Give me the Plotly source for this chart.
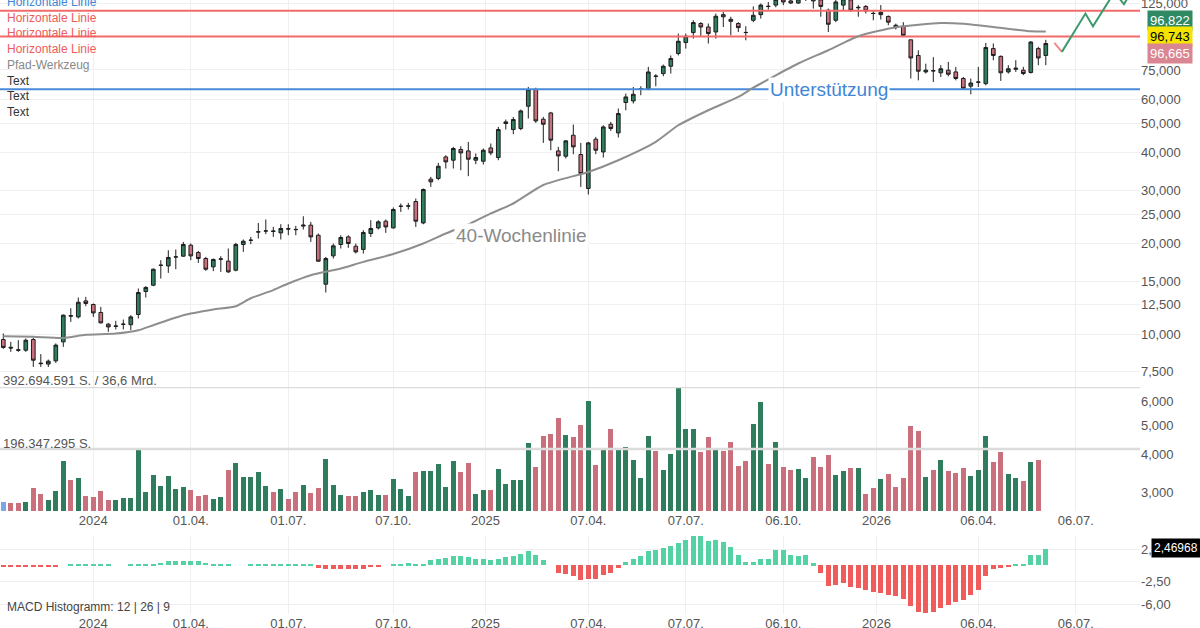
import math
import pandas as pd
import plotly.graph_objects as go

# weekly candles, first week starts Monday 2023-10-09
first_week = "2023-10-09"
n_weeks = 140

opens = [
    9600, 9050, 8880, 8850, 9600, 8020, 7960, 8160, 9430, 11520,
    11410, 12890, 12540, 11800, 10790, 10620, 10780, 10750, 11620, 13850,
    14530, 16900, 16830, 18010, 18130, 19710, 18640, 17810, 16710, 17700,
    17450, 16290, 19820, 20460, 21800, 21960, 21980, 21650, 22350, 22230,
    22800, 22960, 21270, 14640, 18170, 19820, 21000, 19560, 19080, 21550,
    22490, 23670, 22490, 26500, 26560, 27510, 23360, 32620, 32800, 38650,
    37690, 40900, 40460, 37690, 37400, 41400, 38470, 49860, 47620, 47990,
    56890, 64600, 51520, 54050, 40460, 38850, 45600, 39360, 30380, 44240,
    40150, 49590, 46410, 58510, 59230, 65000, 65100, 71600, 72980, 77180,
    85020, 92450, 99770, 106900, 104100, 100230, 114400, 110400, 106900, 99900,
    109600, 114400, 121900, 123000, 129000, 127000, 125000, 129000, 131000, 128000,
    118300, 109600, 123000, 128000, 120500, 121800, 115500, 114400, 112800, 103600,
    104700, 94400, 83800, 73900, 74600, 73400, 74900, 73900, 70300, 66300,
    68300, 67600, 88300, 83200, 73900, 75400, 74900, 73600, 88300, 83800,
]
highs = [
    10050, 9430, 9550, 9680, 9750, 8590, 8240, 9320, 11620, 12190,
    13230, 13290, 12640, 12310, 10900, 11070, 11180, 11560, 14170, 14420,
    16500, 17580, 18970, 19080, 20210, 19970, 18870, 18030, 17810, 18130,
    19220, 20070, 20590, 21000, 23360, 23980, 22660, 23130, 23130, 22840,
    24580, 23550, 21550, 18030, 19970, 21270, 21270, 19970, 22100, 23850,
    23850, 23980, 26280, 27090, 27220, 28140, 30380, 33200, 36920, 39150,
    41720, 41940, 43350, 39670, 41210, 42810, 48580, 51400, 52430, 55460,
    65900, 65500, 52430, 54470, 41720, 43910, 49480, 43010, 43350, 45020,
    49200, 50470, 55900, 62660, 65900, 66250, 76800, 72600, 78160, 83800,
    99010, 99010, 109600, 108000, 106900, 115300, 116800, 112600, 108000, 104700,
    121800, 124500, 126000, 131000, 133000, 130000, 133000, 135000, 134000, 131000,
    119800, 130000, 133000, 131000, 123000, 123000, 118300, 123000, 113700, 106800,
    108000, 94400, 87200, 78700, 82700, 77800, 79800, 76800, 71100, 70300,
    76800, 92200, 91800, 83800, 77800, 80800, 76800, 93500, 89500, 94400,
]
lows = [
    8940, 8740, 8740, 8740, 7790, 7790, 7790, 8030, 9080, 10980,
    11270, 12380, 11410, 10850, 10180, 10370, 10370, 10310, 11270, 13230,
    14420, 15290, 15960, 16410, 18030, 17580, 17220, 16200, 16170, 16080,
    15960, 16150, 18730, 19860, 20740, 21440, 21000, 20590, 21270, 21270,
    22220, 20210, 17350, 13740, 17810, 19220, 19310, 18500, 18500, 21000,
    22220, 21650, 22390, 25410, 25880, 22660, 23130, 30750, 32360, 35380,
    35380, 34910, 33370, 36560, 36480, 39150, 37690, 47620, 45950, 47370,
    51800, 50090, 43010, 40670, 34650, 38180, 39450, 30750, 29010, 39450,
    38470, 47120, 44810, 55170, 58070, 61860, 64260, 66250, 71500, 72980,
    83800, 88300, 95300, 97000, 91750, 95300, 104100, 97700, 100200, 94080,
    108000, 111000, 118900, 121000, 123000, 124000, 124000, 127000, 119800, 112600,
    100200, 108000, 118300, 116800, 112600, 115400, 109600, 110200, 105500, 102100,
    96400, 70300, 69300, 73000, 68400, 71100, 71500, 69300, 64700, 62300,
    65900, 66700, 80800, 69000, 73000, 73900, 72100, 73000, 77800, 77800,
]
closes = [
    9040, 9000, 8850, 9550, 8200, 7990, 8140, 9200, 11560, 11480,
    12760, 12640, 11760, 10900, 10570, 10640, 10790, 11410, 13740, 14280,
    16410, 16920, 17950, 18030, 19820, 18170, 17810, 16410, 17680, 17750,
    16080, 19820, 20320, 20480, 21820, 21980, 21900, 22390, 22300, 22200,
    22960, 21000, 17450, 17800, 19610, 20900, 19970, 18730, 21720, 22390,
    23550, 22660, 25880, 26540, 26600, 23670, 30140, 31960, 36000, 37200,
    41210, 39850, 37980, 38470, 40670, 39850, 47620, 50470, 51400, 54880,
    64600, 50860, 49590, 43910, 38940, 43680, 41720, 34050, 43010, 40670,
    48580, 47990, 53800, 61070, 62330, 65100, 73880, 71500, 77180, 81830,
    93370, 97000, 107700, 104100, 99010, 113000, 112500, 108700, 103600, 99800,
    113800, 123000, 121800, 128500, 126000, 125000, 129000, 131000, 127000, 121800,
    106300, 126000, 129000, 118300, 120900, 117600, 115400, 116400, 108000, 105500,
    97700, 82200, 74300, 74900, 74500, 75700, 72600, 70300, 65200, 67900,
    68400, 89000, 83800, 73400, 75700, 76000, 73000, 92800, 82200, 91800,
]

# weekly volume in million shares (current week has no bar yet)
volume_mio = [
    28, 26, 26, 28, 72, 53, 34, 64, 158, 97,
    104, 47, 44, 64, 36, 34, 40, 42, 195, 59,
    113, 79, 111, 71, 77, 68, 49, 52, 39, 44,
    131, 153, 107, 109, 125, 80, 60, 71, 39, 59,
    82, 58, 72, 166, 83, 52, 48, 46, 59, 68,
    51, 51, 101, 69, 49, 122, 127, 126, 149, 76,
    157, 123, 152, 53, 67, 68, 132, 86, 97, 97,
    214, 139, 238, 243, 295, 240, 235, 271, 348, 147,
    195, 260, 201, 202, 163, 106, 237, 190, 129, 179,
    392.694591, 261, 260, 187, 235, 200, 190, 217, 142, 158,
    274, 346, 148, 218, 138, 131, 134, 106, 171, 139,
    176, 114, 127, 135, 136, 55, 73, 101, 117, 77,
    106, 270, 253, 109, 131, 160, 128, 121, 135, 111,
    131, 239, 155, 187, 118, 106, 96, 154, 161,
]
volume_max_label = "392.694.591 S. / 36,6 Mrd."
volume_half_label = "196.347.295 S."

macd_hist = [
    -0.15, -0.15, -0.15, -0.15, -0.15, -0.15, -0.15, -0.15, 0, 0.15,
    0.15, 0.15, 0.15, 0.15, 0.15, 0, 0, 0.15, 0.15, 0.15,
    0.15, 0.4, 0.67, 0.72, 0.72, 0.72, 0.67, 0.4, 0.15, 0.15,
    0.15, 0, 0, 0.15, 0.15, 0.15, 0.15, 0.15, 0.15, 0.15,
    0.15, 0.15, -0.4, -0.6, -0.6, -0.6, -0.6, -0.6, -0.5, -0.2,
    -0.15, 0, 0.15, 0.15, 0.3, 0.15, 0.2, 0.77, 1.0, 1.1,
    1.45, 1.4, 1.2, 1.0, 0.92, 0.8, 1.0, 1.23, 1.4, 1.7,
    2.15, 1.54, 0.77, 0, -1.13, -1.28, -1.7, -2.3, -2.05, -2.05,
    -1.44, -1.13, -0.36, 0.46, 0.92, 1.38, 2.15, 2.3, 2.6, 3.0,
    3.5, 3.95, 4.56, 4.46, 3.7, 3.85, 3.54, 2.77, 1.54, 0.46,
    0.46, 0.92, 0.92, 2.3, 2.3, 1.54, 1.38, 1.54, 0.3, -1.18,
    -3.18, -2.97, -2.72, -3.33, -3.49, -3.85, -4.15, -4.26, -4.56, -4.72,
    -5.18, -6.2, -7.18, -7.33, -7.13, -6.56, -6.05, -5.64, -5.33, -4.56,
    -3.85, -1.64, -0.56, -0.36, -0.15, 0.15, 0.15, 1.54, 1.64, 2.46968,
]

# 40-week moving average, read at selected weeks
ma_weeks = [0, 4, 8, 11, 15, 18, 20, 24, 28, 31, 33, 36, 38, 41, 45, 48, 52, 56, 59, 62,
            65, 68, 72, 78, 82, 87, 90, 94, 98, 100, 103, 106, 110, 114, 119, 125, 128, 132, 137, 139]
ma_values = [9850, 9800, 9720, 9950, 10050, 10310, 10710, 11560, 12070, 12380,
             13150, 14000, 14720, 15680, 16500, 17360, 18420, 19970, 21550, 23100,
             25120, 27090, 31200, 34460, 37690, 43350, 49200, 55170, 61070, 65500,
             72000, 78800, 87200, 97000, 103900, 107300, 106700, 104100, 100800, 100500]

# drawing objects
red_levels = [117800, 96743]
blue_levels = [64760]
path_dates = ["2026-06-16", "2026-06-23", "2026-07-15", "2026-07-22", "2026-08-11", "2026-08-20", "2026-08-30"]
path_values = [92200, 86100, 115300, 104700, 135700, 123800, 143000]

quote_labels = ["96,822", "96,743", "96,665"]
macd_last_label = "2,46968"

price_ticks = [3000, 4000, 5000, 6000, 7500, 10000, 12500, 15000, 20000, 25000,
               30000, 40000, 50000, 60000, 75000, 125000]
macd_ticks = [2.5, -2.5, -6.0]
macd_ticktext = ["2,50", "-2,50", "-6,00"]
date_ticks = ["2024-01-01", "2024-04-01", "2024-07-01", "2024-10-07", "2025-01-01", "2025-04-07",
              "2025-07-07", "2025-10-06", "2026-01-01", "2026-04-06", "2026-07-06"]
date_ticktext = ["2024", "01.04.", "01.07.", "07.10.", "2025", "07.04.",
                 "07.07.", "06.10.", "2026", "06.04.", "06.07."]

legend_items = [
    ("Horizontale Linie", "#3f86d6"),
    ("Horizontale Linie", "#f05a5a"),
    ("Horizontale Linie", "#f05a5a"),
    ("Horizontale Linie", "#f05a5a"),
    ("Pfad-Werkzeug", "#888888"),
    ("Text", "#333333"),
    ("Text", "#333333"),
    ("Text", "#333333"),
]

GREEN = "#2f7d5c"
RED = "#c9707c"
FONT = "Liberation Sans, Arial, sans-serif"


def main():
    dates = pd.date_range(first_week, periods=n_weeks, freq="7D")
    day_ms = 86400000

    # plot area: 1140 px wide, 7.5 px per week
    x_left = dates[0] - pd.Timedelta(days=3.3 * 7 / 7.5)
    x_right = x_left + pd.Timedelta(days=1140 * 7 / 7.5)

    plot_h = 614.0

    def py(px):
        return 1 - px / plot_h

    fig = go.Figure()

    # volume bars (colour = close vs previous close)
    vol_colors = ["#7aa7ea"] + [
        GREEN if closes[i] > closes[i - 1] else RED for i in range(1, len(volume_mio))
    ]
    fig.add_trace(
        go.Bar(
            x=dates[: len(volume_mio)],
            y=volume_mio,
            marker=dict(color=vol_colors, line=dict(width=0)),
            width=4.6 * day_ms,
            xaxis="x",
            yaxis="y2",
            showlegend=False,
            hoverinfo="skip",
        )
    )

    # horizontal lines
    for lvl in red_levels:
        fig.add_trace(
            go.Scatter(x=[x_left, x_right], y=[lvl, lvl], mode="lines",
                       line=dict(color="#f26b6b", width=2), showlegend=False, hoverinfo="skip")
        )
    for lvl in blue_levels:
        fig.add_trace(
            go.Scatter(x=[x_left, x_right], y=[lvl, lvl], mode="lines",
                       line=dict(color="#4a8ad8", width=2), showlegend=False, hoverinfo="skip")
        )

    # 40-week line
    fig.add_trace(
        go.Scatter(
            x=[dates[i] for i in ma_weeks],
            y=ma_values,
            mode="lines",
            line=dict(color="#8e8e8e", width=2, shape="spline", smoothing=0.6),
            showlegend=False,
            hoverinfo="skip",
        )
    )

    fig.add_trace(
        go.Candlestick(
            x=dates,
            open=opens,
            high=highs,
            low=lows,
            close=closes,
            increasing=dict(fillcolor=GREEN, line=dict(color="#1e1e1e", width=1)),
            decreasing=dict(fillcolor=RED, line=dict(color="#1e1e1e", width=1)),
            whiskerwidth=0,
            showlegend=False,
        )
    )

    # path tool
    fig.add_trace(
        go.Scatter(x=path_dates[:2], y=path_values[:2], mode="lines",
                   line=dict(color="#f08a8a", width=2), showlegend=False, hoverinfo="skip")
    )
    fig.add_trace(
        go.Scatter(x=path_dates[1:], y=path_values[1:], mode="lines",
                   line=dict(color="#3d9a6e", width=2), showlegend=False, hoverinfo="skip")
    )

    # MACD histogram
    fig.add_trace(
        go.Bar(
            x=dates,
            y=macd_hist,
            marker=dict(color=["#55d2a4" if v >= 0 else "#f05c5c" for v in macd_hist], line=dict(width=0)),
            width=5.0 * day_ms,
            xaxis="x2",
            yaxis="y3",
            showlegend=False,
            hoverinfo="skip",
        )
    )

    tickfont = dict(family=FONT, size=13, color="#555555")
    price_bottom = py(511)

    fig.update_layout(
        width=1200,
        height=628,
        margin=dict(l=0, r=60, t=0, b=14, autoexpand=False),
        paper_bgcolor="white",
        plot_bgcolor="white",
        bargap=0,
        font=dict(family=FONT),
        xaxis=dict(
            domain=[0, 1],
            anchor="y",
            type="date",
            range=[x_left, x_right],
            tickvals=date_ticks,
            ticktext=date_ticktext,
            tickfont=tickfont,
            showgrid=True,
            gridcolor="#efefef",
            ticks="",
            showline=False,
            zeroline=False,
            automargin=False,
            rangeslider=dict(visible=False),
        ),
        xaxis2=dict(
            domain=[0, 1],
            anchor="y3",
            matches="x",
            type="date",
            tickvals=date_ticks,
            ticktext=date_ticktext,
            tickfont=tickfont,
            showgrid=True,
            gridcolor="#efefef",
            ticks="",
            showline=False,
            zeroline=False,
            automargin=False,
        ),
        yaxis=dict(
            domain=[price_bottom, 1],
            anchor="x",
            type="log",
            range=[math.log10(2596), math.log10(127900)],
            side="right",
            tickvals=price_ticks,
            ticktext=[f"{v:,}" for v in price_ticks],
            tickfont=tickfont,
            ticklabeloverflow="allow",
            showgrid=True,
            gridcolor="#f0f0f0",
            ticks="",
            zeroline=False,
            automargin=False,
        ),
        yaxis2=dict(
            domain=[price_bottom, py(387)],
            anchor="x",
            range=[0, 392.694591],
            visible=False,
            fixedrange=True,
            automargin=False,
        ),
        yaxis3=dict(
            domain=[0, py(536)],
            anchor="x2",
            range=[-7.5, 4.5],
            side="right",
            tickvals=macd_ticks,
            ticktext=macd_ticktext,
            tickfont=tickfont,
            showgrid=True,
            gridcolor="#efefef",
            ticks="",
            zeroline=False,
            automargin=False,
        ),
    )

    # volume reference lines
    for lvl in [392.694591, 196.347295]:
        fig.add_shape(type="line", xref="paper", yref="y2", x0=0, x1=1, y0=lvl, y1=lvl,
                      line=dict(color="#dcdcdc", width=2.5))

    ann = []
    for k, (txt, col) in enumerate(legend_items):
        ann.append(dict(text=txt, xref="paper", yref="paper", x=0.004, y=py(1.7 + 15.8 * k),
                        xanchor="left", yanchor="middle", showarrow=False,
                        font=dict(family=FONT, size=12, color=col)))

    ann.append(dict(text="Unterstützung", xref="x", yref="y", x="2025-11-18", y=math.log10(blue_levels[0]),
                    showarrow=False, bgcolor="white", borderpad=1,
                    font=dict(family=FONT, size=19, color="#3f86d6")))
    ann.append(dict(text="40-Wochenlinie", xref="x", yref="y", x="2025-02-04", y=math.log10(21270),
                    showarrow=False, bgcolor="white", borderpad=1,
                    font=dict(family=FONT, size=19, color="#8a8a8a")))

    ann.append(dict(text=volume_max_label, xref="paper", yref="paper", x=0.001, y=py(380),
                    xanchor="left", yanchor="middle", showarrow=False,
                    font=dict(family=FONT, size=13, color="#555555")))
    ann.append(dict(text=volume_half_label, xref="paper", yref="paper", x=0.001, y=py(443),
                    xanchor="left", yanchor="middle", showarrow=False,
                    font=dict(family=FONT, size=13, color="#555555")))

    box_styles = [("#2f8a63", "white"), ("#f5e400", "black"), ("#d98592", "white")]
    for k, (txt, (bg, fg)) in enumerate(zip(quote_labels, box_styles)):
        ann.append(dict(text=txt, xref="paper", yref="paper", x=1147 / 1140, y=py(20 + 16.5 * k),
                        xanchor="left", yanchor="middle", showarrow=False, bgcolor=bg, borderpad=2,
                        font=dict(family=FONT, size=13, color=fg)))

    ann.append(dict(text=macd_last_label, xref="paper", yref="paper", x=1151 / 1140, y=py(548),
                    xanchor="left", yanchor="middle", showarrow=False, bgcolor="black", borderpad=2,
                    font=dict(family=FONT, size=12, color="white")))
    ann.append(dict(text="MACD Histogramm: 12 | 26 | 9", xref="paper", yref="paper", x=0.004, y=py(607),
                    xanchor="left", yanchor="middle", showarrow=False,
                    font=dict(family=FONT, size=12, color="#444444")))

    fig.update_layout(annotations=ann)

    # drop the browser's default page margin so the figure sits at the window's corner
    fig.write_html(
        "out.html",
        config={"displayModeBar": False},
        post_script="document.body.style.margin='0';",
    )


if __name__ == "__main__":
    main()
